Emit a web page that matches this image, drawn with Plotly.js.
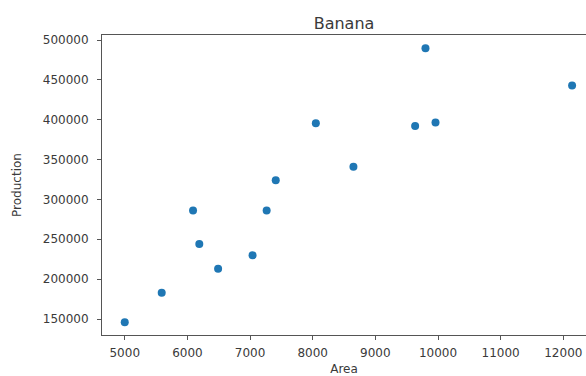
<!DOCTYPE html>
<html>
<head>
<meta charset="utf-8">
<script src="https://cdn.plot.ly/plotly-3.0.1.min.js"></script>
<style>html,body{margin:0;padding:0;background:#fff;}#chart{width:586px;height:376px;}</style>
</head>
<body>
<div id="chart"></div>
<script>
const area = [5000, 5590, 6090, 6190, 6490, 7040, 7265, 7410, 8050, 8650, 9635, 9800, 9960, 12140];
const production = [146000, 183000, 286000, 244000, 213000, 230000, 286000, 324000, 395500, 341000, 392000, 489500, 396500, 443000];
const chartTitle = "Banana";
const xLabel = "Area";
const yLabel = "Production";

const fontFam = "DejaVu Sans, sans-serif";
const textCol = "#3a3a3a";

Plotly.newPlot("chart", [{
  type: "scatter",
  mode: "markers",
  x: area,
  y: production,
  marker: {color: "#1f77b4", size: 8, line: {width: 0}},
  hoverinfo: "skip"
}], {
  width: 586,
  height: 376,
  margin: {l: 102, r: 0, t: 35, b: 41},
  paper_bgcolor: "#ffffff",
  plot_bgcolor: "#ffffff",
  showlegend: false,
  font: {family: fontFam, size: 12, color: textCol},
  title: {text: chartTitle, x: 0.5, xref: "paper", xanchor: "center", y: 1, yref: "paper", yanchor: "bottom", pad: {b: 6}, font: {family: fontFam, size: 16, color: textCol}},
  xaxis: {
    range: [4637, 12362],
    tickmode: "linear", tick0: 5000, dtick: 1000, tickformat: "d",
    showgrid: false, zeroline: false,
    showline: true, linecolor: "#555555", linewidth: 1, mirror: true,
    ticks: "outside", ticklen: 4, tickcolor: "#555555",
    ticklabelstandoff: 3,
    tickfont: {family: fontFam, size: 12, color: textCol},
    title: {text: xLabel, standoff: 8, font: {family: fontFam, size: 12, color: textCol}}
  },
  yaxis: {
    range: [129930, 506270],
    tickmode: "linear", tick0: 150000, dtick: 50000, tickformat: "d",
    showgrid: false, zeroline: false,
    showline: true, linecolor: "#555555", linewidth: 1, mirror: false,
    ticks: "outside", ticklen: 4, tickcolor: "#555555",
    ticklabelstandoff: 6,
    tickfont: {family: fontFam, size: 12, color: textCol},
    title: {text: yLabel, standoff: 18, font: {family: fontFam, size: 12, color: textCol}}
  }
}, {staticPlot: true, displayModeBar: false});
</script>
</body>
</html>
